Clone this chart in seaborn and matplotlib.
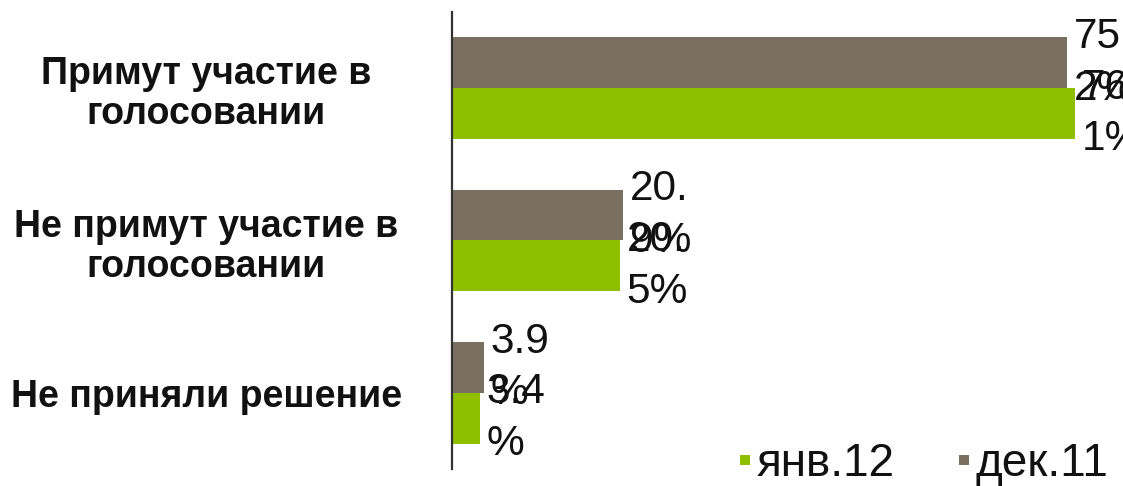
import matplotlib
matplotlib.use("Agg")
import matplotlib.pyplot as plt
import seaborn as sns
import pandas as pd
from matplotlib.lines import Line2D

categories = ["Примут участие в\nголосовании", "Не примут участие в\nголосовании", "Не приняли решение"]
series_names = ["дек.11", "янв.12"]
dec_values = [75.2, 20.9, 3.9]
jan_values = [76.1, 20.5, 3.4]
dec_labels = ["75.\n2%", "20.\n9%", "3.9\n%"]
jan_labels = ["76.\n1%", "20.\n5%", "3.4\n%"]

colors = {"дек.11": "#7a7062", "янв.12": "#8fc000"}

df = pd.DataFrame({
    "cat": categories * 2,
    "series": [series_names[0]] * 3 + [series_names[1]] * 3,
    "val": dec_values + jan_values,
})

sns.set_theme(style="white")
plt.rcParams["font.family"] = ["Liberation Sans", "DejaVu Sans"]

fig = plt.figure(figsize=(11.23, 4.86), dpi=100)
ax = fig.add_axes([452 / 1123, 1 - 469 / 486, 1 - 452 / 1123, (469 - 12) / 486])

sns.barplot(data=df, y="cat", x="val", hue="series", orient="h",
            order=categories, hue_order=series_names, palette=colors,
            width=2 / 3, saturation=1, legend=False, linewidth=0, ax=ax)

ax.set_xlim(0, 82.0)
ax.set_xlabel("")
ax.set_ylabel("")
ax.set_xticks([])

for container, labels in zip(ax.containers, [dec_labels, jan_labels]):
    for bar, lab in zip(container, labels):
        bar.set_edgecolor("none")
        y = bar.get_y() + bar.get_height() / 2
        x = bar.get_width()
        ax.annotate(lab, (x, y), xytext=(5, 0), textcoords="offset points",
                    ha="left", va="center", fontsize=30.5, color="#111111",
                    linespacing=1.38, annotation_clip=False)

ax.tick_params(axis="y", length=0, pad=177)
for t in ax.get_yticklabels():
    t.set_ha("center")
    t.set_multialignment("center")
    t.set_fontsize(27)
    t.set_fontweight("bold")
    t.set_color("#111111")
    t.set_linespacing(1.15)

for s in ["top", "right", "bottom"]:
    ax.spines[s].set_visible(False)
ax.spines["left"].set_color("#333333")
ax.spines["left"].set_linewidth(1.6)

handles = [Line2D([], [], linestyle="none", marker="s", markersize=7.5,
                  markerfacecolor=colors[n], markeredgewidth=0)
           for n in ["янв.12", "дек.11"]]
leg = fig.legend(handles, ["янв.12", "дек.11"], ncol=2, frameon=False,
                 loc="center right", bbox_to_anchor=(1108 / 1123, 1 - 464 / 486),
                 fontsize=33, handlelength=0.3, handletextpad=0.1,
                 columnspacing=1.35, borderaxespad=0, borderpad=0)
for t in leg.get_texts():
    t.set_color("#111111")

fig.savefig("out.png", dpi=100)
